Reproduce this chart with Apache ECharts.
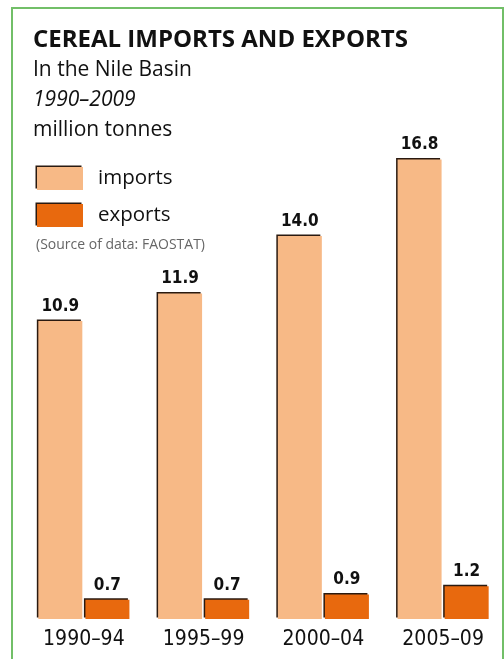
<!DOCTYPE html>
<html><head><meta charset="utf-8">
<style>html,body{margin:0;padding:0;background:#fff}#c{width:504px;height:659px}</style>
<script src="https://cdn.jsdelivr.net/npm/echarts@6/dist/echarts.min.js"></script>
</head><body><div id="c"></div>
<script>
const categories = ['1990–94', '1995–99', '2000–04', '2005–09'];
const imports = [10.9, 11.9, 14.0, 16.8];
const exports_ = [0.7, 0.7, 0.9, 1.2];
const seriesNames = ['imports', 'exports'];

const chart = echarts.init(document.getElementById('c'), null, {renderer: 'canvas'});
const condensed = '"Liberation Sans Narrow","DejaVu Sans Condensed","Roboto Condensed",sans-serif';
const sans = '"Open Sans","Noto Sans",sans-serif';
const barStyle = c => ({color: c, shadowColor: '#2a1a10', shadowBlur: 0, shadowOffsetX: -1.5, shadowOffsetY: -1.5});
const lbl = {show: true, position: 'top', distance: 6, fontFamily: condensed, fontWeight: 'bold', fontSize: 17, color: '#111',
  formatter: p => p.value.toFixed(1)};
chart.setOption({
  animation: false,
  backgroundColor: '#fff',
  title: [
    {text: 'CEREAL IMPORTS AND EXPORTS', left: 28, top: 23, textStyle: {fontFamily: sans, fontWeight: 'bold', fontSize: 24, color: '#111'}},
    {text: 'In the Nile Basin', left: 28, top: 55, textStyle: {fontFamily: sans, fontWeight: 'normal', fontSize: 21, color: '#111'}},
    {text: '1990–2009', left: 28, top: 85, textStyle: {fontFamily: sans, fontStyle: 'italic', fontWeight: 'normal', fontSize: 21, color: '#111'}},
    {text: 'million tonnes', left: 28, top: 115, textStyle: {fontFamily: sans, fontWeight: 'normal', fontSize: 21, color: '#111'}},
    {text: '(Source of data: FAOSTAT)', left: 31, top: 233, textStyle: {fontFamily: sans, fontWeight: 'normal', fontSize: 14, color: '#666'}}
  ],
  legend: {
    orient: 'vertical', left: 32, top: 162, itemWidth: 46, itemHeight: 23, itemGap: 14,
    icon: 'rect', data: seriesNames,
    itemStyle: {shadowColor: '#2a1a10', shadowBlur: 0, shadowOffsetX: -1.5, shadowOffsetY: -1.5},
    textStyle: {fontFamily: sans, fontSize: 20.5, color: '#111', padding: [0, 0, 0, 10]}
  },
  grid: {left: 24, right: 1, top: 72, bottom: 40},
  xAxis: {type: 'category', data: categories, axisLine: {show: false}, axisTick: {show: false},
    axisLabel: {fontFamily: condensed, fontSize: 21, color: '#111', margin: 10}},
  yAxis: {type: 'value', min: 0, max: 20, show: false, splitLine: {show: false}},
  series: [
    {name: seriesNames[0], type: 'bar', data: imports, barWidth: 44, barGap: '7%', itemStyle: barStyle('#f7b986'), label: lbl},
    {name: seriesNames[1], type: 'bar', data: exports_, barWidth: 44, barGap: '7%', itemStyle: barStyle('#e8690e'), label: lbl}
  ],
  graphic: [
    {type: 'rect', shape: {x: 12, y: 8, width: 491, height: 700}, style: {fill: 'none', stroke: '#72bf68', lineWidth: 2}, silent: true}
  ]
});
</script></body></html>
